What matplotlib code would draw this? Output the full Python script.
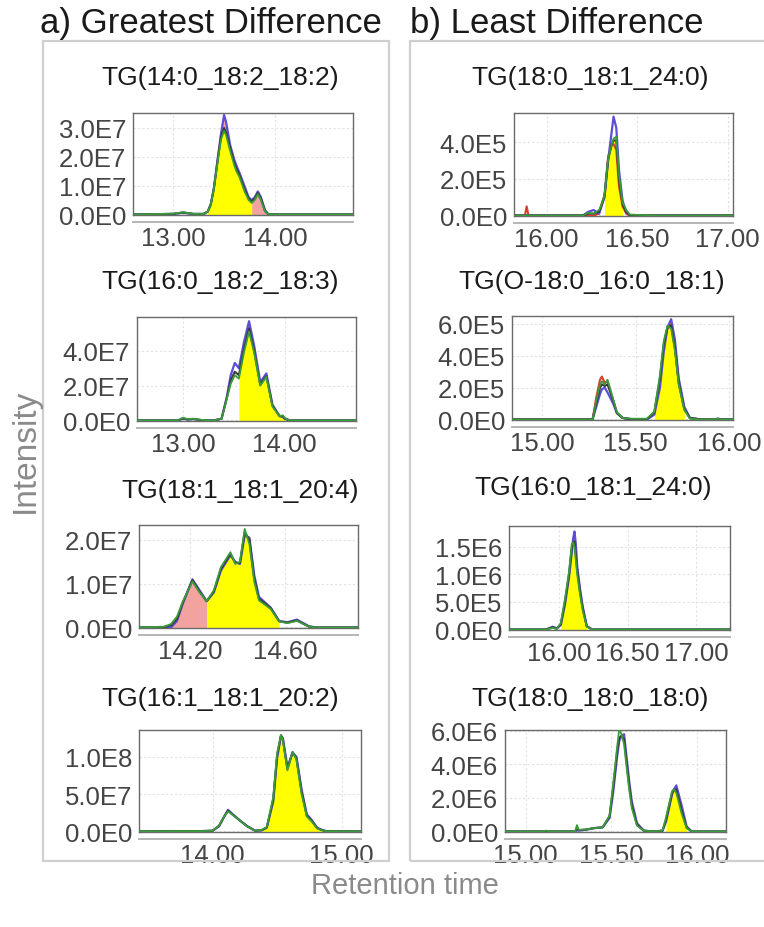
import numpy as np
import matplotlib
matplotlib.use("Agg")
import matplotlib.pyplot as plt
from matplotlib.ticker import FuncFormatter
from matplotlib.patches import Rectangle

plt.rcParams['font.family'] = ['Liberation Sans', 'DejaVu Sans']

# ---------------- data ----------------
titles = ["TG(14:0_18:2_18:2)", "TG(16:0_18:2_18:3)", "TG(18:1_18:1_20:4)", "TG(16:1_18:1_20:2)",
          "TG(18:0_18:1_24:0)", "TG(O-18:0_16:0_18:1)", "TG(16:0_18:1_24:0)", "TG(18:0_18:0_18:0)"]

# panel a1  (intensity unit 1e7)
l1_t = [12.62, 13.00, 13.10, 13.20, 13.30, 13.34, 13.37, 13.40, 13.44, 13.47, 13.50, 13.52, 13.56,
        13.60, 13.62, 13.65, 13.70, 13.74, 13.77, 13.80, 13.83, 13.86, 13.90, 13.93, 14.00, 14.76]
l1_blue = [0, 0.02, 0.06, 0.02, 0.02, 0.1, 0.35, 0.9, 2.0, 2.8, 3.45, 3.2, 2.4,
           1.9, 1.7, 1.45, 0.98, 0.6, 0.5, 0.6, 0.8, 0.6, 0.15, 0.02, 0, 0]
l1_dark = [0, 0.02, 0.07, 0.02, 0.02, 0.1, 0.35, 0.9, 1.95, 2.7, 3.0, 2.85, 2.3,
           1.8, 1.6, 1.38, 0.88, 0.55, 0.45, 0.55, 0.75, 0.55, 0.12, 0.02, 0, 0]
l1_green = [0, 0.03, 0.08, 0.02, 0.02, 0.1, 0.35, 0.9, 1.9, 2.6, 2.9, 2.75, 2.2,
            1.7, 1.5, 1.3, 0.8, 0.5, 0.4, 0.5, 0.7, 0.5, 0.1, 0.02, 0, 0]

# panel a2  (unit 1e7)
l2_t = [12.55, 12.95, 13.00, 13.05, 13.10, 13.20, 13.30, 13.38, 13.43, 13.47, 13.51, 13.55, 13.60,
        13.65, 13.70, 13.76, 13.82, 13.88, 13.95, 13.98, 14.00, 14.05, 14.70]
l2_blue = [0, 0, 0.1, 0.05, 0.08, 0, 0, 0.1, 1.3, 2.6, 3.3, 3.0, 4.5,
           5.7, 4.3, 2.2, 2.7, 0.9, 0.25, 0.2, 0.1, 0, 0]
l2_dark = [0, 0, 0.12, 0.06, 0.09, 0.01, 0, 0.1, 1.25, 2.3, 2.8, 2.6, 4.1,
           5.3, 4.0, 2.05, 2.55, 0.85, 0.25, 0.25, 0.12, 0, 0]
l2_green = [0, 0, 0.15, 0.08, 0.1, 0.02, 0, 0.1, 1.2, 2.1, 2.6, 2.4, 3.9,
            5.1, 3.9, 2.0, 2.5, 0.8, 0.25, 0.3, 0.15, 0, 0]

# panel a3  (unit 1e7)
l3_t = [13.985, 14.09, 14.12, 14.145, 14.17, 14.21, 14.24, 14.27, 14.30, 14.33, 14.37, 14.39,
        14.41, 14.43, 14.45, 14.47, 14.49, 14.54, 14.575, 14.61, 14.65, 14.70, 14.73, 14.907]
l3_blue = [0, 0, 0, 0.15, 0.55, 1.1, 0.85, 0.6, 0.8, 1.3, 1.65, 1.5,
           1.45, 2.1, 2.05, 1.2, 0.7, 0.45, 0.15, 0.12, 0.18, 0.03, 0, 0]
l3_dark = [0, 0.01, 0.05, 0.2, 0.58, 1.08, 0.82, 0.6, 0.82, 1.34, 1.68, 1.48,
           1.47, 2.18, 2.0, 1.12, 0.66, 0.44, 0.14, 0.11, 0.16, 0.02, 0, 0]
l3_green = [0, 0.02, 0.08, 0.25, 0.6, 1.05, 0.8, 0.6, 0.85, 1.38, 1.72, 1.45,
            1.5, 2.25, 1.9, 1.05, 0.62, 0.42, 0.14, 0.1, 0.15, 0.02, 0, 0]

# panel a4  (unit 1e7)
l4_t = [13.43, 13.70, 13.90, 14.00, 14.05, 14.09, 14.12, 14.15, 14.21, 14.27, 14.33, 14.38, 14.42,
        14.47, 14.50, 14.53, 14.545, 14.58, 14.62, 14.65, 14.69, 14.73, 14.77, 14.81, 14.85, 14.88, 15.15]
l4_blue = [0, 0.05, 0.05, 0.1, 0.7, 2.0, 2.9, 2.4, 1.5, 0.7, 0.1, 0.15, 0.5,
           4.0, 9.8, 12.8, 12.5, 8.6, 10.6, 10.0, 5.6, 2.3, 1.5, 0.5, 0.2, 0.05, 0]
l4_dark = [0, 0.05, 0.05, 0.1, 0.75, 2.0, 2.8, 2.35, 1.5, 0.68, 0.1, 0.18, 0.55,
           4.3, 10.2, 12.9, 12.3, 8.4, 10.6, 9.8, 5.3, 2.15, 1.4, 0.45, 0.18, 0.05, 0]
l4_green = [0, 0.05, 0.05, 0.1, 0.8, 2.0, 2.7, 2.3, 1.5, 0.65, 0.1, 0.2, 0.6,
            4.6, 10.5, 12.9, 12.2, 8.2, 10.7, 9.6, 5.0, 2.0, 1.3, 0.4, 0.15, 0.05, 0]

# panel b1  (unit 1e5)
r1_t = [15.82, 15.88, 15.89, 15.90, 16.00, 16.20, 16.23, 16.26, 16.29, 16.30, 16.32, 16.34,
        16.36, 16.37, 16.385, 16.40, 16.42, 16.44, 16.46, 16.60, 17.03]
r1_blue = [0, 0, 0, 0, 0, 0, 0.2, 0.3, 0.1, 0.4, 1.0, 3.0, 4.6, 5.4, 4.8, 2.5, 0.8, 0.2, 0, 0, 0]
r1_red = [0, 0, 0.5, 0, 0, 0, 0, 0, 0.1, 0.5, 1.1, 3.2, 3.85, 3.9, 3.6, 1.6, 0.5, 0.1, 0, 0, 0]
r1_dark = [0, 0, 0, 0, 0, 0, 0.1, 0.1, 0.2, 0.45, 1.05, 3.05, 3.9, 4.1, 4.1, 2.0, 0.6, 0.2, 0.02, 0, 0]
r1_green = [0, 0, 0, 0, 0, 0, 0.15, 0.1, 0.3, 0.5, 1.1, 3.1, 3.9, 4.2, 4.3, 2.2, 0.7, 0.3, 0.05, 0, 0]

# panel b2  (unit 1e5)
r2_t = [14.84, 15.20, 15.27, 15.29, 15.31, 15.32, 15.335, 15.35, 15.38, 15.40, 15.43, 15.48, 15.56,
        15.60, 15.63, 15.65, 15.67, 15.69, 15.71, 15.73, 15.76, 15.79, 15.85, 15.92, 15.94, 15.96, 16.02]
r2_blue = [0, 0, 0, 0.8, 1.6, 1.9, 2.0, 1.7, 1.0, 0.4, 0.1, 0, 0,
           0.3, 2.0, 4.2, 5.8, 6.3, 5.0, 2.6, 0.8, 0.1, 0, 0, 0.05, 0, 0]
r2_red = [0, 0, 0, 1.4, 2.5, 2.7, 2.3, 2.4, 1.2, 0.4, 0.1, 0, 0,
          0.4, 2.4, 4.6, 5.7, 6.0, 4.6, 2.4, 0.7, 0.1, 0, 0, 0, 0, 0]
r2_dark = [0, 0, 0, 1.0, 2.0, 2.2, 2.1, 2.2, 1.2, 0.42, 0.1, 0.02, 0.02,
           0.45, 2.6, 4.7, 5.8, 5.9, 4.5, 2.3, 0.65, 0.08, 0, 0, 0.05, 0, 0]
r2_green = [0, 0, 0, 1.2, 2.2, 2.4, 2.2, 2.5, 1.3, 0.45, 0.1, 0.05, 0.05,
            0.5, 2.8, 4.9, 5.9, 5.7, 4.3, 2.2, 0.6, 0.05, 0, 0, 0.05, 0, 0]

# panel b3  (unit 1e5)
r3_t = [15.63, 15.90, 15.95, 15.98, 16.01, 16.04, 16.07, 16.09, 16.10, 16.11, 16.12, 16.13, 16.15,
        16.17, 16.20, 16.24, 17.25]
r3_blue = [0, 0, 0.5, 0.2, 0.8, 4.5, 9.5, 14.0, 16.5, 17.8, 15.5, 11.5, 7.5, 4.2, 0.6, 0, 0]
r3_dark = [0, 0, 0.4, 0.15, 1.0, 5.0, 10.0, 14.8, 15.8, 16.0, 13.5, 10.8, 7.0, 3.9, 0.6, 0, 0]
r3_green = [0, 0, 0.3, 0.1, 1.2, 5.5, 10.5, 15.5, 15.8, 15.0, 12.5, 10.0, 6.5, 3.5, 0.5, 0, 0]

# panel b4  (unit 1e6)
r4_t = [14.88, 15.10, 15.12, 15.14, 15.29, 15.30, 15.31, 15.35, 15.40, 15.45, 15.49, 15.51, 15.535,
        15.547, 15.56, 15.575, 15.59, 15.605, 15.62, 15.65, 15.69, 15.75, 15.80, 15.82, 15.855, 15.866,
        15.88, 15.91, 15.94, 15.97, 16.17]
r4_blue = [0, 0, 0, 0, 0, 0.1, 0.05, 0.1, 0.2, 0.25, 0.8, 2.2, 4.5,
           5.4, 5.7, 5.8, 4.4, 3.0, 1.8, 0.5, 0.05, 0, 0.05, 0.6, 2.2, 2.5, 2.75, 1.6, 0.3, 0, 0]
r4_dark = [0, 0, 0.03, 0, 0, 0.25, 0.08, 0.11, 0.2, 0.25, 0.9, 2.5, 4.8,
           5.6, 5.7, 5.5, 4.1, 2.7, 1.6, 0.42, 0.05, 0, 0.05, 0.7, 2.3, 2.5, 2.5, 1.3, 0.25, 0, 0]
r4_green = [0, 0, 0.05, 0, 0, 0.38, 0.1, 0.12, 0.2, 0.25, 0.95, 2.7, 5.1,
            6.1, 5.8, 5.2, 3.8, 2.5, 1.4, 0.35, 0.05, 0, 0.06, 0.85, 2.4, 2.5, 2.3, 1.1, 0.2, 0, 0]

units = [1e7, 1e7, 1e7, 1e7, 1e5, 1e5, 1e5, 1e6]
yticks = [[0, 1e7, 2e7, 3e7], [0, 2e7, 4e7], [0, 1e7, 2e7], [0, 5e7, 1e8],
          [0, 2e5, 4e5], [0, 2e5, 4e5, 6e5], [0, 5e5, 1e6, 1.5e6], [0, 2e6, 4e6, 6e6]]
xticks = [[13.0, 14.0], [13.0, 14.0], [14.2, 14.6], [14.0, 15.0],
          [16.0, 16.5, 17.0], [15.0, 15.5, 16.0], [16.0, 16.5, 17.0], [15.0, 15.5, 16.0]]
xlims = [(12.61, 14.76), (12.55, 14.70), (13.985, 14.907), (13.43, 15.15),
         (15.82, 17.03), (14.84, 16.02), (15.63, 17.25), (14.88, 16.17)]
ytops = [3.52e7, 5.94e7, 2.34e7, 1.36e8, 5.6e5, 6.5e5, 1.88e6, 6.05e6]
yellow_ranges = [(13.34, 13.77), (13.55, 14.00), (14.27, 14.575), (14.38, 14.85),
                 (16.32, 16.42), (15.60, 15.76), (16.01, 16.20), (15.82, 15.94)]
pink_ranges = [(13.34, 13.93), None, (14.09, 14.27), None, None, None, None, None]

panels = [
    dict(t=l1_t, blue=l1_blue, dark=l1_dark, green=l1_green, red=None),
    dict(t=l2_t, blue=l2_blue, dark=l2_dark, green=l2_green, red=None),
    dict(t=l3_t, blue=l3_blue, dark=l3_dark, green=l3_green, red=None),
    dict(t=l4_t, blue=l4_blue, dark=l4_dark, green=l4_green, red=None),
    dict(t=r1_t, blue=r1_blue, dark=r1_dark, green=r1_green, red=r1_red),
    dict(t=r2_t, blue=r2_blue, dark=r2_dark, green=r2_green, red=r2_red),
    dict(t=r3_t, blue=r3_blue, dark=r3_dark, green=r3_green, red=None),
    dict(t=r4_t, blue=r4_blue, dark=r4_dark, green=r4_green, red=None),
]

# ---------------- layout (pixels) ----------------
W, H = 764, 928
axes_px = [(133, 114, 353, 216), (137, 318, 356, 422), (139, 526, 358, 629), (139, 731, 361, 833),
           (514, 114, 733, 217), (512, 317, 733, 421), (509, 527, 730, 631), (505, 731, 726, 833)]
title_px = [(220, 78), (220, 282), (240, 491), (220, 699),
            (590, 78), (592, 282), (593, 488), (590, 699)]

C_BLUE = '#5b4fd8'
C_GREEN = '#3a9c3a'
C_DARK = '#3c3c3c'
C_RED = '#d8402c'
C_YEL = '#ffff00'
C_PINK = '#f2a3a0'


def sci(v, pos):
    if v == 0:
        return "0.0E0"
    e = int(np.floor(np.log10(abs(v)) + 1e-9))
    return f"{v / 10 ** e:.1f}E{e}"


fig = plt.figure(figsize=(W / 100, H / 100), dpi=100)

# panel boxes
fig.patches.append(Rectangle((43 / W, 1 - 862 / H), (389 - 43) / W, (862 - 42) / H,
                             transform=fig.transFigure, fill=False, ec='#cfcfcf', lw=1.6))
fig.patches.append(Rectangle((410 / W, 1 - 862 / H), (772 - 410) / W, (862 - 42) / H,
                             transform=fig.transFigure, fill=False, ec='#cfcfcf', lw=1.6,
                             clip_on=False))

for i, p in enumerate(panels):
    x0, y0, x1, y1 = axes_px[i]
    ax = fig.add_axes([x0 / W, 1 - y1 / H, (x1 - x0) / W, (y1 - y0) / H])
    t = np.array(p['t'])
    u = units[i]
    blue = np.array(p['blue']) * u
    dark = np.array(p['dark']) * u
    green = np.array(p['green']) * u
    if pink_ranges[i] is not None:
        a, b = pink_ranges[i]
        m = (t >= a - 1e-9) & (t <= b + 1e-9)
        top = blue if i == 0 else dark
        ax.fill_between(t, 0, top, where=m, color=C_PINK, lw=0, zorder=1)
    a, b = yellow_ranges[i]
    m = (t >= a - 1e-9) & (t <= b + 1e-9)
    ax.fill_between(t, 0, dark, where=m, color=C_YEL, lw=0, zorder=2)
    if p['red'] is not None:
        ax.plot(t, np.array(p['red']) * u, color=C_RED, lw=1.5, zorder=3)
    ax.plot(t, blue, color=C_BLUE, lw=1.6, zorder=4)
    ax.plot(t, dark, color=C_DARK, lw=1.5, zorder=5)
    ax.plot(t, green, color=C_GREEN, lw=1.3, zorder=6)

    ax.set_xlim(*xlims[i])
    ax.set_ylim(-0.005 * ytops[i], ytops[i])
    ax.set_xticks(xticks[i])
    ax.set_xticklabels([f"{v:.2f}" for v in xticks[i]])
    ax.set_yticks(yticks[i])
    ax.yaxis.set_major_formatter(FuncFormatter(sci))
    ax.tick_params(axis='both', length=0, labelsize=18.5, colors='#444444')
    ax.tick_params(axis='x', pad=8)
    ax.tick_params(axis='y', pad=5)
    ax.grid(True, color='#e2e2e2', lw=0.8, ls=(0, (2, 2)))
    ax.set_axisbelow(True)
    for s in ax.spines.values():
        s.set_color('#6a6a6a')
        s.set_linewidth(1.0)
    ax.plot([0, 1], [-0.07, -0.07], transform=ax.transAxes, color='#b5b5b5', lw=1.4,
            clip_on=False)
    tx, ty = title_px[i]
    fig.text(tx / W, 1 - ty / H, titles[i], ha='center', va='center', fontsize=19, color='#1a1a1a')

fig.text(40 / W, 1 - 24 / H, "a) Greatest Difference", ha='left', va='center', fontsize=25,
         color='#1a1a1a')
fig.text(410 / W, 1 - 24 / H, "b) Least Difference", ha='left', va='center', fontsize=25,
         color='#1a1a1a')
fig.text(405 / W, 1 - 886 / H, "Retention time", ha='center', va='center', fontsize=21,
         color='#8a8a8a')
fig.text(25 / W, 1 - 451 / H, "Intensity", ha='center', va='center', fontsize=24,
         color='#8a8a8a', rotation=90)

fig.savefig("out.png", dpi=100, facecolor='white')
